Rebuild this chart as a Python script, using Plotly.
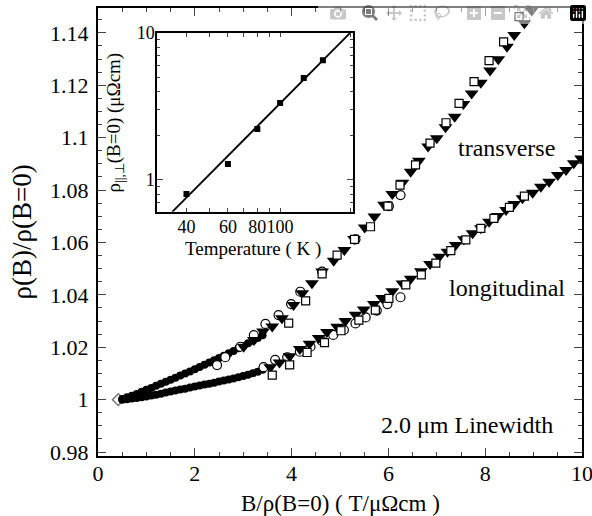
import plotly.graph_objects as go

# ---------------- data ----------------
# transverse branch
tr_tri_x = [3.01, 3.22, 3.41, 3.60, 3.80, 4.04, 4.22, 4.42, 4.63, 4.87, 5.09, 5.29, 5.51, 5.71,
            5.91, 6.08, 6.29, 6.46, 6.63, 6.82, 7.00, 7.18, 7.37, 7.55, 7.72, 7.91, 8.10, 8.27,
            8.45, 8.60, 8.81, 8.96]
tr_tri_y = [1.0202, 1.0228, 1.0260, 1.0279, 1.0311, 1.0361, 1.0406, 1.0444, 1.0489, 1.0530,
            1.0571, 1.0613, 1.0657, 1.0699, 1.0744, 1.0785, 1.0828, 1.0870, 1.0912, 1.0966,
            1.0998, 1.1040, 1.1080, 1.1129, 1.1169, 1.1210, 1.1256, 1.1299, 1.1347, 1.1392,
            1.1437, 1.1485]
tr_sq_x = [3.94, 4.29, 4.63, 4.94, 5.30, 5.63, 5.99, 6.24, 6.56, 6.86, 7.19, 7.46, 7.77, 8.08,
           8.38, 8.70]
tr_sq_y = [1.0292, 1.0377, 1.0480, 1.0552, 1.0612, 1.0660, 1.0739, 1.0819, 1.0896, 1.0979,
           1.1057, 1.1131, 1.1214, 1.1294, 1.1366, 1.1462]
tr_ci_x = [2.46, 2.63, 2.94, 3.22, 3.46, 3.73, 3.99, 4.18, 4.63, 5.32, 6.01, 6.25]
tr_ci_y = [1.0132, 1.0162, 1.0202, 1.0246, 1.0289, 1.0323, 1.0365, 1.0412, 1.0489, 1.0612,
           1.0739, 1.0781]
tr_dot_x = [0.5, 0.6, 0.7, 0.8, 0.9, 1.0, 1.1, 1.2, 1.3, 1.4, 1.5, 1.6, 1.7, 1.8, 1.9, 2.0,
            2.1, 2.2, 2.3, 2.4, 2.5, 2.6, 2.7, 2.8, 2.9, 3.0, 3.1, 3.2, 3.3, 3.4]
tr_dot_y = [1.0003, 1.0009, 1.0015, 1.0022, 1.0030, 1.0038, 1.0045, 1.0053, 1.0061, 1.0068,
            1.0076, 1.0084, 1.0092, 1.0100, 1.0108, 1.0116, 1.0125, 1.0133, 1.0142, 1.0150,
            1.0159, 1.0168, 1.0177, 1.0186, 1.0196, 1.0205, 1.0215, 1.0225, 1.0235, 1.0246]

# longitudinal branch
lo_tri_x = [3.56, 3.75, 3.96, 4.17, 4.37, 4.56, 4.73, 4.94, 5.11, 5.32, 5.49, 5.70, 5.87, 6.08,
            6.29, 6.46, 6.67, 6.86, 7.05, 7.22, 7.39, 7.56, 7.74, 7.91, 8.08, 8.26, 8.43, 8.60,
            8.77, 8.98, 9.15, 9.32, 9.50, 9.67, 9.83, 9.98]
lo_tri_y = [1.0124, 1.0142, 1.0166, 1.0193, 1.0213, 1.0235, 1.0258, 1.0278, 1.0300, 1.0324,
            1.0344, 1.0365, 1.0388, 1.0414, 1.0443, 1.0462, 1.0490, 1.0518, 1.0546, 1.0565,
            1.0590, 1.0612, 1.0635, 1.0654, 1.0679, 1.0701, 1.0724, 1.0747, 1.0769, 1.0790,
            1.0813, 1.0832, 1.0858, 1.0877, 1.0902, 1.0921]
lo_sq_x = [3.60, 3.96, 4.32, 4.68, 5.02, 5.39, 5.73, 6.01, 6.36, 6.68, 6.98, 7.29, 7.60, 7.91,
           8.18, 8.50, 8.81]
lo_sq_y = [1.0094, 1.0133, 1.0180, 1.0218, 1.0263, 1.0304, 1.0342, 1.0387, 1.0438, 1.0476,
           1.0521, 1.0569, 1.0610, 1.0654, 1.0692, 1.0734, 1.0777]
lo_ci_x = [3.42, 3.66, 3.91, 4.17, 4.39, 4.62, 4.86, 5.08, 5.32, 5.53, 5.76, 5.98, 6.25]
lo_ci_y = [1.0124, 1.0152, 1.0162, 1.0183, 1.0202, 1.0225, 1.0247, 1.0266, 1.0291, 1.0314,
           1.0340, 1.0365, 1.0391]
lo_dot_x = [0.5, 0.6, 0.7, 0.8, 0.9, 1.0, 1.1, 1.2, 1.3, 1.4, 1.5, 1.6, 1.7, 1.8, 1.9, 2.0,
            2.1, 2.2, 2.3, 2.4, 2.5, 2.6, 2.7, 2.8, 2.9, 3.0, 3.1, 3.2, 3.3, 3.4]
lo_dot_y = [1.0000, 1.0002, 1.0004, 1.0006, 1.0009, 1.0012, 1.0016, 1.0019, 1.0023, 1.0027,
            1.0031, 1.0035, 1.0039, 1.0042, 1.0046, 1.0050, 1.0054, 1.0058, 1.0061, 1.0065,
            1.0069, 1.0073, 1.0077, 1.0081, 1.0086, 1.0090, 1.0095, 1.0101, 1.0107, 1.0114]
start_x = [0.42]
start_y = [1.0]

# inset: zero-field resistivity vs temperature
inset_T = [40, 60, 80, 100, 126, 152]
inset_rho = [0.80, 1.28, 2.22, 3.34, 4.94, 6.52]
fit_T = [34.8, 198]
fit_rho = [0.605, 10]

x_ticks = [0, 2, 4, 6, 8, 10]
x_tick_text = ["0", "2", "4", "6", "8", "10"]
y_ticks = [0.98, 1.0, 1.02, 1.04, 1.06, 1.08, 1.1, 1.12, 1.14]
y_tick_text = ["0.98", "1", "1.02", "1.04", "1.06", "1.08", "1.1", "1.12", "1.14"]
inset_x_ticks = [40, 60, 80, 100]
inset_x_minor = [30, 50, 70, 90, 200]
inset_y_ticks = [1, 10]
inset_y_minor = [0.7, 0.8, 0.9, 2, 3, 4, 5, 6, 7, 8, 9]

# ---------------- figure ----------------
FONT = "Liberation Serif, Times New Roman, serif"
fig = go.Figure()

def add(x, y, symbol, size, filled, lw=1.2, color="black", edge="black"):
    fig.add_trace(go.Scatter(
        x=x, y=y, mode="markers", showlegend=False, hoverinfo="skip",
        marker=dict(symbol=symbol, size=size,
                    color=color if filled else "white",
                    line=dict(color=edge, width=0 if filled else lw))))

add(start_x, start_y, "diamond", 9, False, lw=1.5, edge="#777777")
add(tr_dot_x, tr_dot_y, "circle", 8, True)
add(lo_dot_x, lo_dot_y, "circle", 8, True)
add(tr_ci_x, tr_ci_y, "circle", 9, False)
add(lo_ci_x, lo_ci_y, "circle", 9, False)
add(tr_tri_x, tr_tri_y, "triangle-down", 12, True)
add(lo_tri_x, lo_tri_y, "triangle-down", 12, True)
add(tr_sq_x, tr_sq_y, "square", 8, False)
add(lo_sq_x, lo_sq_y, "square", 8, False)

# inset traces
fig.add_trace(go.Scatter(x=fit_T, y=fit_rho, mode="lines", xaxis="x2", yaxis="y2",
                         showlegend=False, line=dict(color="black", width=1.8)))
fig.add_trace(go.Scatter(x=inset_T, y=inset_rho, mode="markers", xaxis="x2", yaxis="y2",
                         showlegend=False,
                         marker=dict(symbol="square", size=6, color="black")))

tick_font = dict(family=FONT, size=22, color="black")
inset_font = dict(family=FONT, size=18, color="black")

fig.update_layout(
    width=592, height=516,
    font=dict(family=FONT, color="black"),
    margin=dict(l=98, r=10, t=8, b=60),
    paper_bgcolor="white", plot_bgcolor="white",
    xaxis=dict(showline=True, linecolor="black", linewidth=2, mirror="ticks",
               ticks="inside", showgrid=False, zeroline=False, tickfont=tick_font,
               range=[0, 10], tickvals=x_ticks, ticktext=x_tick_text, ticklen=8,
               tickwidth=1.2, automargin=False, ticklabelstandoff=-3,
               ticklabeloverflow="allow",
               minor=dict(dtick=0.5, tick0=0, ticks="inside", ticklen=4, tickwidth=1,
                          showgrid=False)),
    yaxis=dict(showline=True, linecolor="black", linewidth=2, mirror="ticks",
               ticks="inside", showgrid=False, zeroline=False, tickfont=tick_font,
               range=[0.9785, 1.1495], tickvals=y_ticks, ticktext=y_tick_text,
               ticklen=8, tickwidth=1.2, automargin=False,
               minor=dict(dtick=0.005, tick0=0.98, ticks="inside", ticklen=4, tickwidth=1,
                          showgrid=False),
               ticklabelstandoff=3),
    xaxis2=dict(type="log", domain=[0.122, 0.527], anchor="y2",
                range=[1.477, 2.31], showline=True, linecolor="black", linewidth=1.5,
                mirror="ticks", ticks="inside", ticklen=4, tickwidth=1, showgrid=False,
                tickvals=inset_x_ticks, ticktext=[str(v) for v in inset_x_ticks],
                tickangle=0, automargin=False, ticklabelstandoff=-2,
                minor=dict(tickvals=inset_x_minor, ticks="inside", ticklen=4, tickwidth=1,
                           showgrid=False),
                tickfont=inset_font),
    yaxis2=dict(type="log", domain=[0.545, 0.944], anchor="x2",
                range=[-0.218, 1.0], showline=True, linecolor="black", linewidth=1.5,
                mirror="ticks", ticks="inside", ticklen=6, tickwidth=1, showgrid=False,
                tickvals=inset_y_ticks, ticktext=[str(v) for v in inset_y_ticks],
                automargin=False, ticklabelstandoff=-3,
                minor=dict(tickvals=inset_y_minor, ticks="inside", ticklen=3, tickwidth=1,
                           showgrid=False),
                tickfont=inset_font),
)

def note(text, x, y, size, xanchor="center", yanchor="middle", angle=0, yref="paper"):
    fig.add_annotation(text=text, xref="paper", yref=yref, x=x, y=y, showarrow=False,
                       xanchor=xanchor, yanchor=yanchor, textangle=angle,
                       font=dict(family=FONT, size=size, color="black"))

note("B/ρ(B=0) ( T/μΩcm )", 0.5, -0.107, 23)
note("ρ(B)/ρ(B=0)", -0.158, 0.5, 27, angle=-90)
note("transverse", 0.948, 1.0960, 24, xanchor="right", yref="y")
note("longitudinal", 0.969, 1.0427, 24, xanchor="right", yref="y")
note("2.0 μm Linewidth", 0.944, 0.9905, 24, xanchor="right", yref="y")
note("Temperature ( K )", 0.320, 0.462, 19)
note("ρ<sub>||,⊥</sub>(B=0) (μΩcm)", 0.0355, 0.745, 19, angle=-90)

# remove the browser's default page margin so the 592x516 figure fills the window exactly
fig.write_html("out.html", post_script=(
    "document.documentElement.style.margin='0';"
    "document.body.style.margin='0';document.body.style.overflow='hidden';"))
